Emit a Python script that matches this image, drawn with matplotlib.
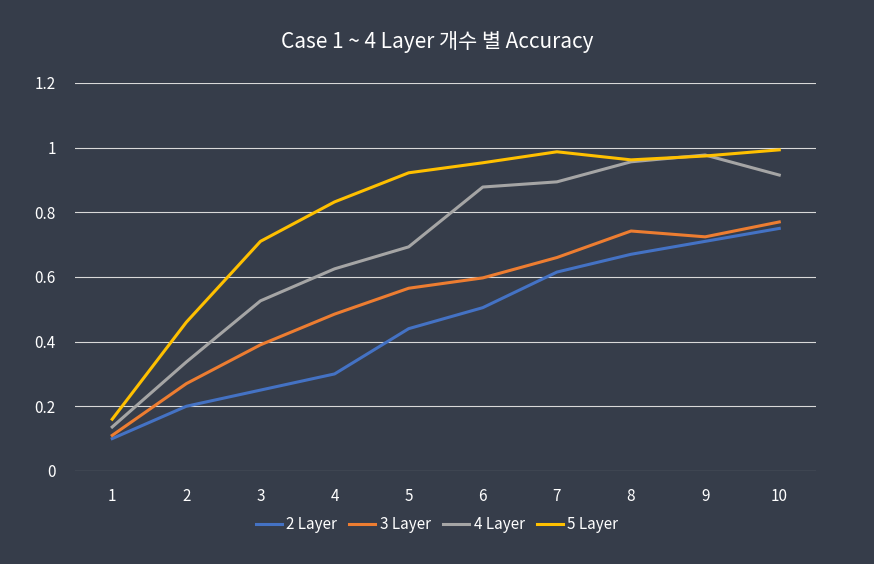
import matplotlib.pyplot as plt

plt.rcParams['font.family'] = ['Noto Sans CJK KR', 'DejaVu Sans']
plt.rcParams['font.weight'] = 'medium'

x = list(range(1, 11))
layer2 = [0.10, 0.20, 0.25, 0.30, 0.44, 0.505, 0.615, 0.67, 0.71, 0.75]
layer3 = [0.11, 0.27, 0.39, 0.485, 0.565, 0.597, 0.66, 0.742, 0.724, 0.77]
layer4 = [0.136, 0.337, 0.526, 0.625, 0.693, 0.878, 0.894, 0.956, 0.977, 0.915]
layer5 = [0.16, 0.46, 0.71, 0.832, 0.922, 0.953, 0.987, 0.962, 0.974, 0.993]
names = ['2 Layer', '3 Layer', '4 Layer', '5 Layer']
colors = ['#4472c4', '#ed7d31', '#a5a5a5', '#ffc000']

bg = '#363d4a'
fig = plt.figure(figsize=(8.74, 5.64), dpi=100, facecolor=bg)
ax = fig.add_axes([0.086, 0.165, 0.848, 0.688], facecolor=bg)

for ys, n, c in zip([layer2, layer3, layer4, layer5], names, colors):
    ax.plot(x, ys, color=c, lw=2.2, label=n)

ax.set_xlim(0.5, 10.5)
ax.set_ylim(0, 1.2)
ax.set_yticks([0, 0.2, 0.4, 0.6, 0.8, 1, 1.2])
ax.set_yticklabels(['0', '0.2', '0.4', '0.6', '0.8', '1', '1.2'])
ax.set_xticks(x)
ax.grid(axis='y', color='#d9d9d9', lw=0.8)
ax.set_axisbelow(True)
for s in ax.spines.values():
    s.set_visible(False)
ax.tick_params(length=0, colors='white', labelsize=11, pad=12)
ax.tick_params(axis='y', pad=14)

fig.suptitle('Case 1 ~ 4 Layer 개수 별 Accuracy', color='white', fontsize=15,
             fontweight='medium', y=0.945)
leg = fig.legend(loc='lower center', ncol=4, frameon=False, fontsize=11,
                 bbox_to_anchor=(0.5, 0.03), handlelength=1.7,
                 handletextpad=0.3, columnspacing=0.8)
for t in leg.get_texts():
    t.set_color('white')

fig.savefig('out.png', facecolor=bg)
